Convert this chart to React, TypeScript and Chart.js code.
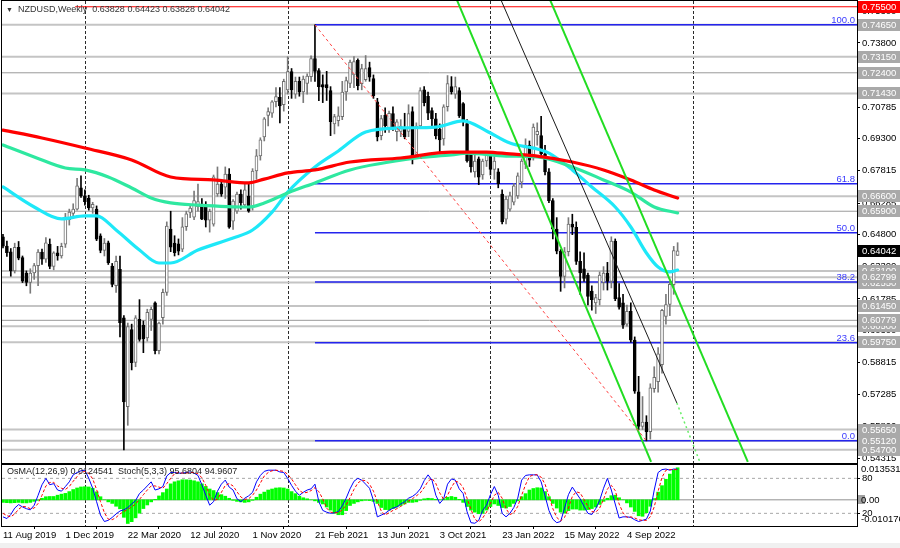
import React, { useEffect, useRef } from "react";
import { Chart, registerables } from "chart.js";

Chart.register(...registerables);

const FONT = '"Liberation Sans", Arial, sans-serif';

// ---- weekly candles, index = weeks since 11 Aug 2019 ----
const opens = [
  0.6470, 0.6426, 0.6400, 0.6310, 0.6420, 0.6372, 0.6300, 0.6256, 0.6300, 0.6335,
  0.6398, 0.6365, 0.6435, 0.6331, 0.6395, 0.6380, 0.6435, 0.6550, 0.6580, 0.6600,
  0.6700, 0.6662, 0.6652, 0.6605, 0.6600, 0.6474, 0.6406, 0.6442, 0.6332, 0.6240,
  0.6317, 0.6090, 0.5672, 0.6035, 0.5880, 0.6082, 0.6055, 0.5995, 0.6082, 0.6160,
  0.5935, 0.6090, 0.6209, 0.6506, 0.6440, 0.6437, 0.6412, 0.6517, 0.6585, 0.6562,
  0.6612, 0.6624, 0.6619, 0.6548, 0.6529, 0.6671, 0.6718, 0.6703, 0.6765, 0.6543,
  0.6590, 0.6671, 0.6620, 0.6661, 0.6610, 0.6779, 0.6850, 0.6939, 0.7040, 0.7050,
  0.7104, 0.7125, 0.7090, 0.7160, 0.7246, 0.7140, 0.7200, 0.7150, 0.7190, 0.7222,
  0.7307, 0.7250, 0.7185, 0.7185, 0.7156, 0.7000, 0.7015, 0.7034, 0.7150, 0.7190,
  0.7230, 0.7298, 0.7189, 0.7208, 0.7265, 0.7213, 0.7104, 0.6945, 0.7040, 0.6980,
  0.7049, 0.6963, 0.6965, 0.6977, 0.6965, 0.7058, 0.6857, 0.6991, 0.7160, 0.7130,
  0.7063, 0.7024, 0.6975, 0.6930, 0.7081, 0.7175, 0.7140, 0.7156, 0.7095, 0.7001,
  0.6859, 0.6775, 0.6836, 0.6760, 0.6826, 0.6859, 0.6786, 0.6775, 0.6671, 0.6553,
  0.6600, 0.6633, 0.6662, 0.6727, 0.6810, 0.6900, 0.6840, 0.6950, 0.6945, 0.6860,
  0.6775, 0.6640, 0.6506, 0.6402, 0.6284, 0.6400, 0.6530, 0.6515, 0.6355, 0.6320,
  0.6290, 0.6215, 0.6160, 0.6175, 0.6256, 0.6300, 0.6260, 0.6450, 0.6185, 0.6160,
  0.6060, 0.6120, 0.5985, 0.5742, 0.5580, 0.5600, 0.5555, 0.5757, 0.5790, 0.5870,
  0.6096, 0.6152, 0.6245, 0.63828,
];
const highs = [
  0.6482, 0.6450, 0.6415, 0.6440, 0.6448, 0.6380, 0.6310, 0.6320, 0.6345, 0.6410,
  0.6412, 0.6466, 0.6460, 0.6400, 0.6425, 0.6440, 0.6580, 0.6600, 0.6625, 0.6745,
  0.6756, 0.6690, 0.6665, 0.6632, 0.6615, 0.6484, 0.6462, 0.6450, 0.6345, 0.6380,
  0.6380, 0.6100, 0.6065, 0.6060, 0.6100, 0.6175, 0.6075, 0.6130, 0.6140, 0.6165,
  0.6070, 0.6225, 0.6540, 0.6590, 0.6475, 0.6460, 0.6560, 0.6590, 0.6620, 0.6685,
  0.6718, 0.6650, 0.6635, 0.6600, 0.6760, 0.6798, 0.6740, 0.6798, 0.6790, 0.6645,
  0.6680, 0.6690, 0.6720, 0.6720, 0.6790, 0.6880, 0.6935, 0.7030, 0.7075, 0.7110,
  0.7170, 0.7170, 0.7210, 0.7315, 0.7260, 0.7220, 0.7220, 0.7225, 0.7235, 0.7320,
  0.7465, 0.7260, 0.7230, 0.7247, 0.7175, 0.7045, 0.7080, 0.7200, 0.7220, 0.7300,
  0.7316, 0.7305, 0.7280, 0.7321, 0.7290, 0.7230, 0.7120, 0.7040, 0.7075, 0.7060,
  0.7080, 0.7020, 0.7020, 0.7050, 0.7090, 0.7080, 0.7005, 0.7170, 0.7175, 0.7150,
  0.7075, 0.7050, 0.7000, 0.7090, 0.7227, 0.7222, 0.7220, 0.7170, 0.7100, 0.7020,
  0.6870, 0.6860, 0.6845, 0.6835, 0.6865, 0.6870, 0.6850, 0.6790, 0.6690, 0.6660,
  0.6680, 0.6720, 0.6770, 0.6836, 0.6930, 0.6920, 0.7000, 0.7005, 0.7035, 0.6900,
  0.6790, 0.6650, 0.6560, 0.6410, 0.6420, 0.6560, 0.6576, 0.6540, 0.6400, 0.6395,
  0.6300, 0.6240, 0.6200, 0.6305, 0.6330, 0.6350, 0.6470, 0.6460, 0.6250, 0.6200,
  0.6150, 0.6160, 0.6000, 0.5815, 0.5720, 0.5630, 0.5780, 0.5860, 0.5950, 0.6130,
  0.6200, 0.6260, 0.6425, 0.64423,
];
const lows = [
  0.6418, 0.6378, 0.6285, 0.6300, 0.6362, 0.6255, 0.6240, 0.6205, 0.6270, 0.6240,
  0.6340, 0.6350, 0.6320, 0.6315, 0.6360, 0.6370, 0.6420, 0.6525, 0.6560, 0.6595,
  0.6655, 0.6618, 0.6595, 0.6580, 0.6452, 0.6395, 0.6380, 0.6340, 0.6235, 0.6209,
  0.6000, 0.5469, 0.5585, 0.5845, 0.5860, 0.5980, 0.5926, 0.5980, 0.6030, 0.5920,
  0.5920, 0.6060, 0.6195, 0.6400, 0.6380, 0.6385, 0.6400, 0.6500, 0.6560, 0.6550,
  0.6590, 0.6550, 0.6516, 0.6492, 0.6520, 0.6660, 0.6660, 0.6650, 0.6510, 0.6505,
  0.6580, 0.6600, 0.6610, 0.6585, 0.6595, 0.6740, 0.6830, 0.6920, 0.6990, 0.7030,
  0.7080, 0.7005, 0.7060, 0.7140, 0.7120, 0.7120, 0.7130, 0.7100, 0.7140, 0.7200,
  0.7200, 0.7109, 0.7100, 0.7110, 0.6945, 0.6953, 0.6990, 0.7020, 0.7110, 0.7170,
  0.7170, 0.7160, 0.7160, 0.7200, 0.7200, 0.7120, 0.6920, 0.6925, 0.6960, 0.6960,
  0.6970, 0.6920, 0.6940, 0.6930, 0.6940, 0.6812, 0.6840, 0.6980, 0.7085, 0.7020,
  0.6990, 0.6930, 0.6865, 0.6900, 0.7060, 0.7140, 0.7120, 0.7030, 0.6990, 0.6820,
  0.6774, 0.6750, 0.6715, 0.6740, 0.6800, 0.6760, 0.6740, 0.6700, 0.6530, 0.6530,
  0.6590, 0.6620, 0.6650, 0.6700, 0.6790, 0.6800, 0.6830, 0.6900, 0.6840, 0.6760,
  0.6630, 0.6460, 0.6390, 0.6214, 0.6230, 0.6380, 0.6480, 0.6340, 0.6200, 0.6260,
  0.6150, 0.6125, 0.6110, 0.6150, 0.6220, 0.6220, 0.6230, 0.6170, 0.6130, 0.6040,
  0.6050, 0.5975, 0.5735, 0.5565, 0.5565, 0.5512, 0.5520, 0.5740, 0.5740, 0.5830,
  0.6060, 0.6100, 0.6200, 0.63828,
];
const closes = [
  0.6426, 0.6395, 0.6310, 0.6420, 0.6370, 0.6262, 0.6256, 0.6300, 0.6335, 0.6398,
  0.6365, 0.6442, 0.6331, 0.6395, 0.6380, 0.6425, 0.6563, 0.6586, 0.6600, 0.6709,
  0.6662, 0.6635, 0.6605, 0.6622, 0.6459, 0.6406, 0.6440, 0.6348, 0.6247, 0.6355,
  0.6067, 0.5695, 0.6049, 0.5879, 0.6090, 0.5988, 0.5990, 0.6115, 0.6129, 0.5935,
  0.6065, 0.6209, 0.6520, 0.6421, 0.6395, 0.6403, 0.6517, 0.6578, 0.6605, 0.6640,
  0.6635, 0.6553, 0.6548, 0.6590, 0.6751, 0.6718, 0.6670, 0.6765, 0.6515, 0.6638,
  0.6671, 0.6630, 0.6690, 0.6590, 0.6779, 0.6850, 0.6925, 0.7024, 0.7058, 0.7104,
  0.7128, 0.7085, 0.7200, 0.7246, 0.7160, 0.7200, 0.7150, 0.7210, 0.7225, 0.7307,
  0.7246, 0.7175, 0.7172, 0.7170, 0.7010, 0.7034, 0.7038, 0.7150, 0.7203, 0.7290,
  0.7293, 0.7180, 0.7260, 0.7260, 0.7220, 0.7132, 0.6939, 0.7025, 0.6990, 0.7050,
  0.6978, 0.7010, 0.6990, 0.6939, 0.7048, 0.6850, 0.6990, 0.7156, 0.7100, 0.7050,
  0.7024, 0.6944, 0.6925, 0.7080, 0.7189, 0.7151, 0.7175, 0.7038, 0.7015, 0.6826,
  0.6798, 0.6826, 0.6750, 0.6826, 0.6859, 0.6786, 0.6825, 0.6720, 0.6540, 0.6647,
  0.6662, 0.6709, 0.6756, 0.6826, 0.6900, 0.6830, 0.6985, 0.6965, 0.6860, 0.6775,
  0.6640, 0.6506, 0.6402, 0.6284, 0.6400, 0.6530, 0.6515, 0.6355, 0.6300, 0.6275,
  0.6190, 0.6175, 0.6185, 0.6290, 0.6300, 0.6260, 0.6450, 0.6180, 0.6140, 0.6055,
  0.6120, 0.5985, 0.5745, 0.5580, 0.5600, 0.5555, 0.5761, 0.5810, 0.5920, 0.6125,
  0.6152, 0.6247, 0.6405, 0.64042,
];

// ---- moving averages ----
const redMaIdx = [0, 10, 21, 33, 43, 54, 63, 67, 73, 80, 89, 102, 115, 124, 130, 137, 146, 154, 161, 167, 173];
const redMaVals = [0.6971, 0.6934, 0.6887, 0.6831, 0.6751, 0.6737, 0.6723, 0.6741, 0.6770, 0.6784, 0.6821, 0.6840, 0.6868, 0.6868, 0.6859, 0.6849, 0.6821, 0.6784, 0.6737, 0.6690, 0.6652];
const greenMaIdx = [0, 8, 16, 21, 27, 33, 38, 43, 50, 63, 67, 73, 80, 89, 106, 115, 119, 129, 137, 146, 154, 161, 167, 173];
const greenMaVals = [0.6901, 0.6845, 0.6793, 0.6784, 0.6751, 0.6699, 0.6652, 0.6629, 0.6619, 0.6610, 0.6629, 0.6676, 0.6723, 0.6784, 0.6840, 0.6854, 0.6863, 0.6849, 0.6845, 0.6798, 0.6737, 0.6680, 0.6610, 0.6582];
const cyanMaIdx = [0, 8, 15, 21, 24, 29, 35, 40, 43, 50, 59, 64, 69, 73, 80, 86, 93, 102, 111, 118, 124, 130, 137, 140, 146, 151, 157, 161, 165, 168, 171, 173];
const cyanMaVals = [0.6704, 0.6610, 0.6554, 0.6568, 0.6568, 0.6502, 0.6408, 0.6347, 0.6347, 0.6408, 0.6464, 0.6502, 0.6586, 0.6680, 0.6798, 0.6873, 0.6962, 0.6981, 0.6985, 0.7014, 0.6967, 0.6910, 0.6882, 0.6863, 0.6784, 0.6704, 0.6610, 0.6516, 0.6394, 0.6328, 0.6305, 0.6314];

// ---- levels & drawn objects ----
const priceTicks = [0.54315, 0.558, 0.57285, 0.58815, 0.603, 0.61785, 0.633, 0.648, 0.66285, 0.67815, 0.693, 0.70785, 0.723, 0.738, 0.753];
const grayLevels = [0.7465, 0.7315, 0.724, 0.7143, 0.666, 0.659, 0.631, 0.6255, 0.62799, 0.6145, 0.605, 0.60779, 0.5975, 0.5565, 0.547, 0.5512];
const darkLevels = [0.724, 0.659, 0.60779];
const resistanceLevel = 0.755;
const resistanceStart = 18.5;
const fibLevels = [0.7465, 0.67195, 0.64885, 0.62575, 0.59724, 0.5512];
const fibLabels = ["100.0", "61.8", "50.0", "38.2", "23.6", "0.0"];
const fibStart = 80;
const lastPrice = 0.64042;
const fibDiagonal = [{ x: 80, y: 0.7465 }, { x: 165, y: 0.5512 }];
const channelLeft = [{ x: 116.4, y: 0.7582 }, { x: 166.2, y: 0.5413 }];
const channelRight = [{ x: 140.3, y: 0.7582 }, { x: 191.0, y: 0.5413 }];
const blackTrend = [{ x: 127.7, y: 0.7582 }, { x: 172.8, y: 0.5690 }];
const greenDotted = [{ x: 172.8, y: 0.5690 }, { x: 178.7, y: 0.5413 }];

// ---- indicators ----
const osma = [
  -0.0010, -0.0011, -0.0012, -0.0011, -0.0010, -0.0012, -0.0012, -0.0010, -0.0006, -0.0002,
  0.0006, 0.0012, 0.0013, 0.0013, 0.0018, 0.0022, 0.0025, 0.0032, 0.0040, 0.0046,
  0.0050, 0.0051, 0.0050, 0.0045, 0.0031, 0.0012, 0.0000, -0.0008, -0.0014, -0.0025,
  -0.0035, -0.0068, -0.0092, -0.0085, -0.0070, -0.0052, -0.0034, -0.0020, -0.0008, 0.0002,
  0.0015, 0.0028, 0.0042, 0.0062, 0.0070, 0.0074, 0.0078, 0.0078, 0.0077, 0.0074,
  0.0070, 0.0062, 0.0052, 0.0042, 0.0036, 0.0028, 0.0020, 0.0014, 0.0006, -0.0002,
  -0.0006, -0.0008, -0.0010, -0.0008, -0.0002, 0.0010, 0.0022, 0.0030, 0.0038, 0.0042,
  0.0046, 0.0047, 0.0046, 0.0042, 0.0032, 0.0024, 0.0014, 0.0008, 0.0004, 0.0000,
  -0.0004, -0.0010, -0.0016, -0.0028, -0.0040, -0.0052, -0.0058, -0.0058, -0.0042, -0.0022,
  -0.0014, -0.0008, -0.0004, -0.0002, -0.0003, -0.0006, -0.0014, -0.0030, -0.0038, -0.0040,
  -0.0034, -0.0028, -0.0022, -0.0016, -0.0010, -0.0010, -0.0008, -0.0002, 0.0004, 0.0006,
  0.0005, 0.0002, 0.0000, 0.0004, 0.0010, 0.0013, 0.0010, 0.0002, -0.0010, -0.0026,
  -0.0040, -0.0048, -0.0054, -0.0052, -0.0040, -0.0026, -0.0016, -0.0022, -0.0030, -0.0032,
  -0.0026, -0.0014, -0.0004, 0.0012, 0.0024, 0.0038, 0.0044, 0.0047, 0.0046, 0.0032,
  0.0012, -0.0014, -0.0032, -0.0048, -0.0052, -0.0042, -0.0036, -0.0036, -0.0040, -0.0040,
  -0.0038, -0.0034, -0.0028, -0.0018, -0.0006, 0.0006, 0.0016, 0.0018, 0.0008, 0.0000,
  -0.0012, -0.0028, -0.0045, -0.0062, -0.0064, -0.0050, -0.0025, 0.0005, 0.0030, 0.0055,
  0.0080, 0.0100, 0.0116, 0.0124541,
];
const stochMain = [
  14, 11, 18, 29, 35, 31, 28, 26, 34, 51,
  69, 80, 69, 71, 60, 58, 66, 74, 86, 90,
  93, 94, 80, 63, 40, 17, 6, 8, 13, 19,
  24, 26, 30, 36, 42, 54, 60, 67, 74, 60,
  62, 66, 84, 90, 90, 89, 89, 90, 91, 89,
  85, 69, 51, 34, 40, 58, 70, 77, 65, 60,
  45, 40, 46, 50, 56, 74, 85, 92, 94, 94,
  94, 91, 90, 80, 68, 58, 51, 56, 60, 62,
  70, 40, 25, 22, 20, 21, 23, 33, 46, 62,
  75, 80, 77, 70, 63, 42, 14, 17, 20, 25,
  29, 31, 36, 40, 46, 49, 54, 62, 76, 86,
  77, 51, 37, 45, 70, 79, 77, 62, 54, 23,
  4, 3, 8, 25, 34, 52, 66, 51, 20, 14,
  20, 30, 46, 77, 85, 86, 86, 86, 74, 50,
  25, 10, 4, 6, 29, 52, 65, 55, 45, 32,
  20, 18, 28, 42, 63, 80, 60, 36, 12, 14,
  14, 13, 9, 6, 8, 10, 24, 60, 90, 95,
  96, 94, 96, 95.6804,
];
const stochSignal = [
  20, 16, 14, 19, 27, 32, 31, 28, 29, 37,
  51, 67, 73, 73, 67, 63, 61, 66, 75, 83,
  90, 92, 89, 79, 61, 40, 21, 10, 9, 13,
  19, 23, 27, 31, 36, 44, 52, 60, 67, 67,
  65, 63, 71, 80, 88, 90, 89, 89, 90, 90,
  88, 81, 68, 51, 42, 44, 56, 68, 71, 67,
  57, 48, 44, 45, 51, 60, 72, 84, 90, 93,
  94, 93, 92, 87, 79, 69, 59, 55, 56, 59,
  64, 57, 45, 29, 22, 21, 21, 26, 34, 47,
  61, 72, 77, 76, 70, 58, 40, 24, 17, 21,
  25, 28, 32, 36, 41, 45, 50, 55, 64, 75,
  80, 71, 55, 44, 51, 65, 75, 73, 64, 46,
  27, 10, 5, 12, 22, 37, 51, 56, 46, 28,
  18, 21, 32, 51, 69, 83, 86, 86, 82, 70,
  50, 28, 13, 7, 13, 29, 49, 57, 55, 44,
  32, 23, 22, 29, 44, 62, 68, 59, 36, 21,
  13, 14, 12, 9, 8, 8, 14, 31, 58, 82,
  94, 95, 95, 94.9607,
];
const stochLevels = [80, 20];

const dateTickIdx = [0, 16, 32, 48, 64, 80, 96, 112, 128, 144, 160];
const dateTickLabels = ["11 Aug 2019", "1 Dec 2019", "22 Mar 2020", "12 Jul 2020", "1 Nov 2020", "21 Feb 2021", "13 Jun 2021", "3 Oct 2021", "23 Jan 2022", "15 May 2022", "4 Sep 2022"];
const yearIdx = [21, 73, 125, 177];

const titleText = "NZDUSD,Weekly  0.63828 0.64423 0.63828 0.64042";
const indTitle = "OsMA(12,26,9) 0.0124541  Stoch(5,3,3) 95.6804 94.9607";

const X_MIN = -0.256;
const X_MAX = 219.0;
const P_MIN = 0.540803;
const P_MAX = 0.757704;

const hline = (v: number, from = X_MIN) => [{ x: from, y: v }, { x: X_MAX, y: v }];

const yearLinesPlugin = {
  id: "yearLines",
  beforeDatasetsDraw(chart: any) {
    const { ctx, chartArea, scales } = chart;
    ctx.save();
    ctx.strokeStyle = "#2a2a2a";
    ctx.lineWidth = 1;
    ctx.setLineDash([3, 2]);
    yearIdx.forEach((v) => {
      const x = Math.round(scales.x.getPixelForValue(v)) + 0.5;
      if (x < chartArea.left || x > chartArea.right) return;
      ctx.beginPath();
      ctx.moveTo(x, chartArea.top);
      ctx.lineTo(x, chartArea.bottom);
      ctx.stroke();
    });
    ctx.restore();
  },
};

const decorA = {
  id: "decorA",
  afterDraw(chart: any) {
    const { ctx, chartArea: ca, scales } = chart;
    const ys = scales.y;
    ctx.save();
    ctx.setLineDash([]);
    ctx.strokeStyle = "#000";
    ctx.lineWidth = 1;
    ctx.strokeRect(Math.round(ca.left) - 0.5, Math.round(ca.top) - 0.5, Math.round(ca.right - ca.left) + 1, Math.round(ca.bottom - ca.top) + 1);

    ctx.font = `9.5px ${FONT}`;
    ctx.textAlign = "right";
    ctx.textBaseline = "alphabetic";
    ctx.fillStyle = "#3a3aff";
    fibLevels.forEach((l, k) => ctx.fillText(fibLabels[k], ca.right - 2, ys.getPixelForValue(l) - 2));

    ctx.textAlign = "left";
    ctx.textBaseline = "middle";
    ctx.fillStyle = "#333";
    ctx.font = `7px ${FONT}`;
    ctx.fillText("▼", 6, 10);
    ctx.font = `9px ${FONT}`;
    ctx.fillText(titleText, 18, 10);

    ctx.font = `9.5px ${FONT}`;
    const box = (v: number, bg: string, fg: string) => {
      const py = Math.round(ys.getPixelForValue(v));
      ctx.fillStyle = bg;
      ctx.fillRect(Math.round(ca.right) + 1, py - 6, 60, 12);
      ctx.fillStyle = fg;
      ctx.fillText(v.toFixed(5), Math.round(ca.right) + 5, py + 0.5);
    };
    grayLevels.forEach((v) => box(v, "#a9a9a9", "#ffffff"));
    box(resistanceLevel, "#ff0000", "#ffffff");
    box(lastPrice, "#000000", "#ffffff");
    ctx.restore();
  },
};

const decorB = {
  id: "decorB",
  afterDraw(chart: any) {
    const { ctx, chartArea: ca } = chart;
    ctx.save();
    ctx.strokeStyle = "#000";
    ctx.lineWidth = 1;
    ctx.strokeRect(Math.round(ca.left) - 0.5, Math.round(ca.top) - 0.5, Math.round(ca.right - ca.left) + 1, Math.round(ca.bottom - ca.top) + 1);
    ctx.font = `9px ${FONT}`;
    ctx.textAlign = "left";
    ctx.textBaseline = "middle";
    ctx.fillStyle = "#222";
    ctx.fillText(indTitle, 7, 8);
    ctx.font = `9.5px ${FONT}`;
    const r = Math.round(ca.right);
    ctx.fillStyle = "#000";
    ctx.fillText("0.0135317", r + 4, 5);
    ctx.fillStyle = "#a0a0a0";
    ctx.fillRect(r + 1, 31, 7, 9);
    ctx.fillStyle = "#000";
    ctx.fillText("0.00", r + 4, 36);
    ctx.fillText("-0.010176", r + 4, 55);
    ctx.restore();
  },
};

export default function App() {
  const refA = useRef<HTMLCanvasElement>(null);
  const refB = useRef<HTMLCanvasElement>(null);

  useEffect(() => {
    const font = { family: FONT, size: 9.5 };
    const idx = closes.map((_, i) => i);
    const up = idx.map((i) => closes[i] >= opens[i]);

    const levelSets: any[] = grayLevels.map((v) => {
      const dark = darkLevels.includes(v);
      return {
        type: "line",
        data: hline(v),
        borderColor: dark ? "#9a9a9a" : "#c4c4c4",
        borderWidth: dark ? 1 : 2,
        pointRadius: 0,
        order: 10,
      };
    });
    levelSets.push({ type: "line", data: hline(resistanceLevel, resistanceStart), borderColor: "#ff0000", borderWidth: 1, pointRadius: 0, order: 9 });
    fibLevels.forEach((v) =>
      levelSets.push({ type: "line", data: hline(v, fibStart), borderColor: "#2424ee", borderWidth: 1.5, pointRadius: 0, order: 9 })
    );

    const maLine = (ix: number[], vals: number[], color: string) => ({
      type: "line",
      data: ix.map((x, k) => ({ x, y: vals[k] })),
      borderColor: color,
      borderWidth: 3.2,
      pointRadius: 0,
      cubicInterpolationMode: "monotone",
      borderCapStyle: "round",
      order: 3,
    });
    const trend = (pts: any[], color: string, w: number, dash: number[] = []) => ({
      type: "line",
      data: pts,
      borderColor: color,
      borderWidth: w,
      borderDash: dash,
      pointRadius: 0,
      order: 1,
    });

    const a = new Chart(refA.current as HTMLCanvasElement, {
      type: "bar",
      data: {
        datasets: [
          ...levelSets,
          {
            type: "bar",
            data: idx.map((i) => ({ x: i, y: [lows[i], highs[i]] })),
            backgroundColor: up.map((u) => (u ? "#7a7a7a" : "#000000")),
            barThickness: 1,
            grouped: false,
            order: 6,
          },
          {
            type: "bar",
            data: idx.map((i) => ({ x: i, y: [opens[i], closes[i]] })),
            backgroundColor: up.map((u) => (u ? "#ffffff" : "#000000")),
            borderColor: up.map((u) => (u ? "#6e6e6e" : "#000000")),
            borderWidth: 1,
            borderSkipped: false,
            barThickness: 3,
            minBarLength: 1,
            grouped: false,
            order: 5,
          },
          maLine(redMaIdx, redMaVals, "#ff0000"),
          maLine(greenMaIdx, greenMaVals, "#2ee8a0"),
          maLine(cyanMaIdx, cyanMaVals, "#1ee8f8"),
          trend(fibDiagonal, "#ff4040", 1, [3, 3]),
          trend(channelLeft, "#22dd22", 2),
          trend(channelRight, "#22dd22", 2),
          trend(blackTrend, "#1a1a1a", 1),
          trend(greenDotted, "#66ee66", 1.5, [2, 3]),
        ] as any,
      },
      options: {
        responsive: false,
        devicePixelRatio: 1,
        animation: false,
        events: [],
        layout: { padding: { left: 2, top: 1, right: 0, bottom: 1 } },
        plugins: { legend: { display: false }, tooltip: { enabled: false } },
        scales: {
          x: { type: "linear", min: X_MIN, max: X_MAX, display: false, offset: false },
          y: {
            type: "linear",
            position: "right",
            min: P_MIN,
            max: P_MAX,
            afterBuildTicks: (s: any) => {
              s.ticks = priceTicks.map((v) => ({ value: v }));
            },
            afterFit: (s: any) => {
              s.width = 43;
              s.paddingTop = 0;
              s.paddingBottom = 0;
            },
            grid: { drawOnChartArea: false, drawTicks: true, tickLength: 3, color: "#000" },
            border: { display: true, color: "#000" },
            ticks: { autoSkip: false, padding: 2, color: "#000", font, callback: (v: any) => Number(v).toFixed(5) },
          },
        },
      } as any,
      plugins: [yearLinesPlugin, decorA],
    });

    const b = new Chart(refB.current as HTMLCanvasElement, {
      type: "bar",
      data: {
        datasets: [
          { type: "line", data: hline(0), yAxisID: "yo", borderColor: "#909090", borderWidth: 1, pointRadius: 0, order: 8 },
          ...stochLevels.map((v) => ({ type: "line", data: hline(v), yAxisID: "ys", borderColor: "#a8a8a8", borderWidth: 1, borderDash: [3, 3], pointRadius: 0, order: 8 })),
          {
            type: "bar",
            data: osma.map((v, i) => ({ x: i, y: v })),
            yAxisID: "yo",
            backgroundColor: "#00ff00",
            barThickness: 3,
            grouped: false,
            order: 5,
          },
          { type: "line", data: stochMain.map((v, i) => ({ x: i, y: v })), yAxisID: "ys", borderColor: "#0000ff", borderWidth: 1, pointRadius: 0, order: 2 },
          { type: "line", data: stochSignal.map((v, i) => ({ x: i, y: v })), yAxisID: "ys", borderColor: "#ff0000", borderWidth: 1, borderDash: [3, 2], pointRadius: 0, order: 1 },
        ] as any,
      },
      options: {
        responsive: false,
        devicePixelRatio: 1,
        animation: false,
        events: [],
        layout: { padding: { left: 2, top: 1, right: 0, bottom: 0 } },
        plugins: { legend: { display: false }, tooltip: { enabled: false } },
        scales: {
          x: {
            type: "linear",
            position: "bottom",
            min: X_MIN,
            max: X_MAX,
            offset: false,
            afterBuildTicks: (s: any) => {
              s.ticks = dateTickIdx.map((v) => ({ value: v }));
            },
            afterFit: (s: any) => {
              s.height = 22;
              s.paddingLeft = 0;
              s.paddingRight = 0;
            },
            grid: { drawOnChartArea: false, drawTicks: true, tickLength: 3, color: "#000" },
            border: { display: false },
            ticks: {
              autoSkip: false,
              maxRotation: 0,
              minRotation: 0,
              align: "start",
              padding: 1,
              color: "#000",
              font,
              callback: (v: any) => {
                const k = dateTickIdx.indexOf(Number(v));
                return k >= 0 ? dateTickLabels[k] : "";
              },
            },
          },
          ys: {
            type: "linear",
            position: "right",
            min: -1.7,
            max: 102.9,
            afterBuildTicks: (s: any) => {
              s.ticks = stochLevels.map((v) => ({ value: v }));
            },
            afterFit: (s: any) => {
              s.width = 43;
              s.paddingTop = 0;
              s.paddingBottom = 0;
            },
            grid: { drawOnChartArea: false, drawTicks: true, tickLength: 3, color: "#000" },
            border: { display: true, color: "#000" },
            ticks: { autoSkip: false, padding: 2, color: "#000", font, callback: (v: any) => String(v) },
          },
          yo: { type: "linear", display: false, min: -0.010176, max: 0.0135317 },
        },
      } as any,
      plugins: [yearLinesPlugin, decorB],
    });

    return () => {
      a.destroy();
      b.destroy();
    };
  }, []);

  return (
    <div style={{ position: "absolute", left: 0, top: 0, width: 900, height: 548, background: "#ffffff", overflow: "hidden" }}>
      <canvas ref={refA} width={900} height={464} style={{ position: "absolute", left: 0, top: 0, width: 900, height: 464 }} />
      <canvas ref={refB} width={900} height={84} style={{ position: "absolute", left: 0, top: 464, width: 900, height: 84 }} />
      <div style={{ position: "absolute", left: 0, top: 543, width: 900, height: 5, background: "#f0f0f0" }} />
    </div>
  );
}
